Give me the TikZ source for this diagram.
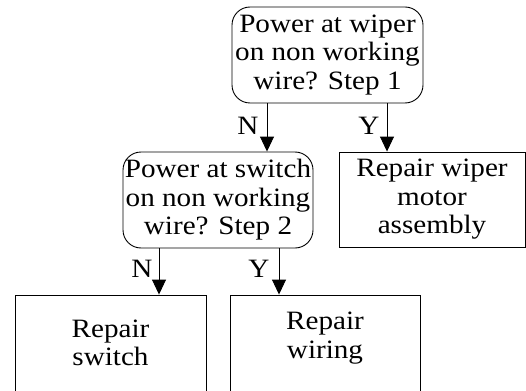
\documentclass[tikz,border=0pt]{standalone}
\usepackage{fontspec}
\setmainfont[FakeStretch=1.1]{Liberation Serif}
\usetikzlibrary{arrows.meta}
\begin{document}
\begin{tikzpicture}[x=1pt,y=-1pt,
  every node/.style={font=\fontsize{26.5}{28.5}\selectfont, align=center, inner sep=0pt},
  decision/.style={draw, line width=0.9pt, rounded corners=18pt, minimum width=191pt, minimum height=96pt},
  action/.style={draw, line width=0.9pt, minimum width=191pt, minimum height=96pt},
  arr/.style={line width=0.9pt, -{Triangle[length=15pt,width=14pt]}},
  lbl/.style={font=\fontsize{26.5}{28.5}\selectfont}]
\useasboundingbox (0,0) rectangle (526,390);
\clip (0,0) rectangle (526,390);
\node[decision] (q1) at (327.5,55) {Power at wiper\\on non working\\wire? Step 1};
\node[decision, minimum width=190pt] (q2) at (218,200) {Power at switch\\on non working\\wire? Step 2};
\node[action, minimum width=186pt, minimum height=95pt] (motor) at (432,199.5) {Repair wiper\\motor\\assembly};
\node[action] (switch) at (110.5,343) {Repair\\switch};
\node[action, minimum width=190pt] (wiring) at (325,343) {};
\node (wiringtxt) at (325,338) {Repair\\wiring};
\coordinate (n1) at ([xshift=-60.5pt]q1.south);
\coordinate (y1) at ([xshift=59.5pt]q1.south);
\coordinate (n2) at ([xshift=-59pt]q2.south);
\coordinate (y2) at ([xshift=61pt]q2.south);
\draw[arr] (n1) -- (n1 |- q2.north);
\draw[arr] (y1) -- (y1 |- motor.north);
\draw[arr] (n2) -- (n2 |- switch.north);
\draw[arr] (y2) -- (y2 |- wiring.north);
\node[lbl] (ln1) at (248,126) {N};
\node[lbl] (ly1) at (369,126) {Y};
\node[lbl] (ln2) at (142,269) {N};
\node[lbl] (ly2) at (259,269) {Y};
\end{tikzpicture}
\end{document}
